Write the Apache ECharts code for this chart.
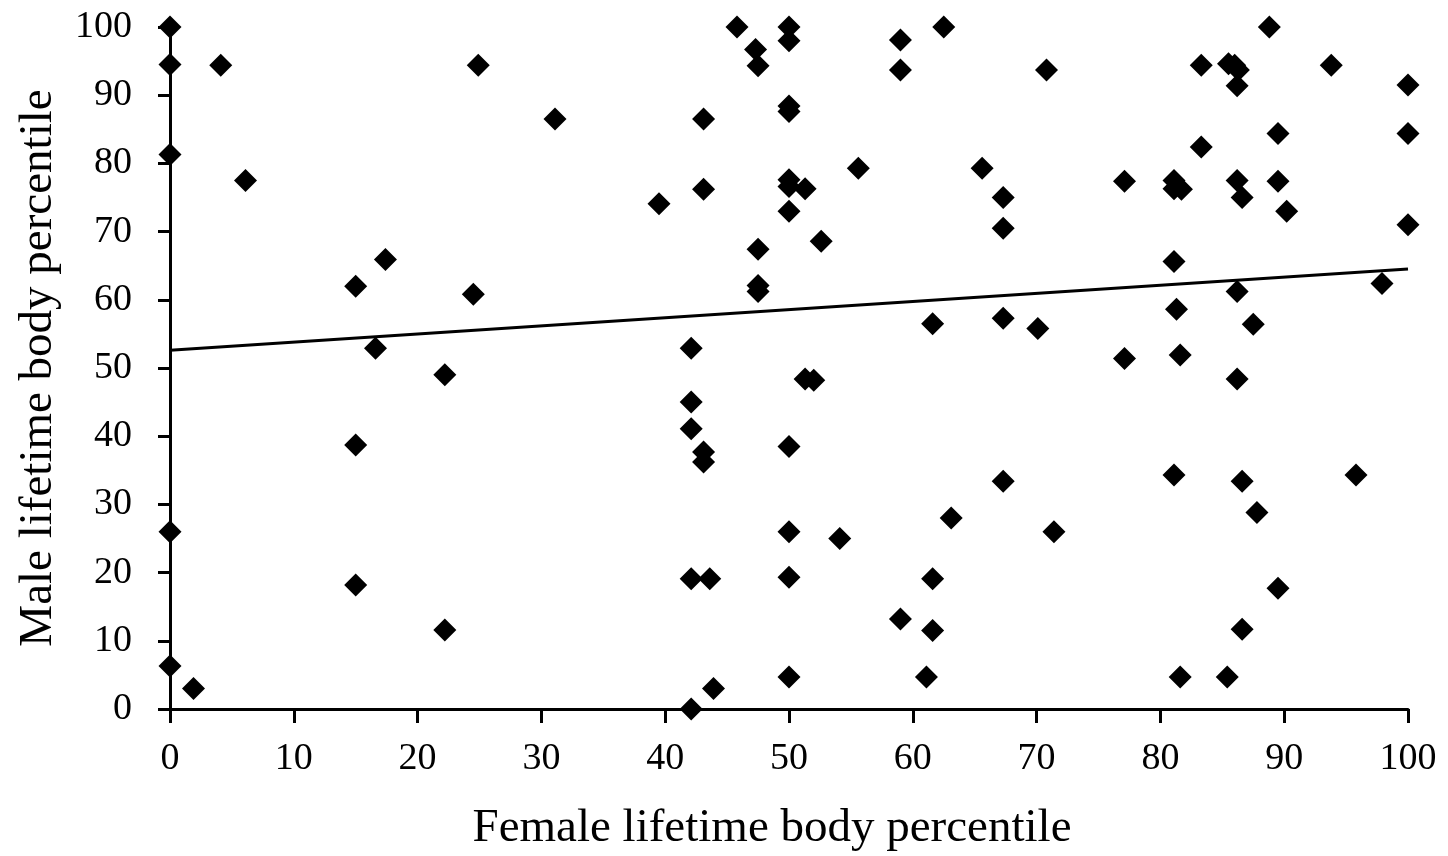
<!DOCTYPE html>
<html>
<head>
<meta charset="utf-8">
<script src="https://cdn.jsdelivr.net/npm/echarts@6/dist/echarts.min.js"></script>
<style>html,body{margin:0;padding:0;background:#fff}#c{width:1448px;height:856px}</style>
</head>
<body>
<div id="c"></div>
<script>
const femaleX = [
  0, 0, 0, 0, 0, 1.9,
  4.1, 6.1, 24.9, 31.1, 15.0, 17.4, 24.5, 16.6,
  22.2, 15.0, 15.0, 22.2,
  45.8, 50.0, 50.0, 47.3, 47.5, 59.0, 62.5, 59.0, 50.0, 50.0, 43.1,
  55.6, 65.6, 50.0, 50.0, 51.3, 50.0, 39.5, 43.1, 47.5, 52.6, 47.5, 47.5,
  61.6, 42.1, 67.3, 67.3, 67.3,
  88.8, 70.8, 83.3, 85.5, 86.0, 86.3, 86.2, 93.8, 100, 100, 89.5, 83.3,
  77.1, 81.1, 81.1, 81.7, 86.2, 89.5, 86.6, 90.2, 100, 81.1,
  70.1, 86.2, 81.3, 87.5, 97.9, 77.1, 81.6, 86.2,
  67.3, 81.1, 86.6, 95.8, 87.8, 71.4, 89.5, 86.6, 81.6, 85.4,
  51.3, 52.0, 42.1, 42.1, 43.1, 43.1, 50.0, 63.1, 50.0, 54.1,
  42.1, 43.6, 50.0, 61.6, 59.0, 61.6, 50.0, 61.1, 43.9, 42.1
];
const maleY = [
  100, 94.5, 81.3, 26.0, 6.3, 3.0,
  94.4, 77.5, 94.4, 86.5, 62.0, 65.9, 60.8, 52.9,
  49.0, 38.7, 18.2, 11.6,
  100, 100, 98.0, 96.7, 94.3, 98.1, 100, 93.7, 88.4, 87.6, 86.5,
  79.3, 79.3, 77.6, 76.6, 76.3, 73.0, 74.1, 76.2, 67.4, 68.6, 62.1, 61.2,
  56.5, 52.9, 75.0, 70.5, 57.3,
  100, 93.7, 94.4, 94.6, 94.4, 93.7, 91.4, 94.4, 91.5, 84.4, 84.4, 82.4,
  77.4, 77.5, 76.3, 76.2, 77.5, 77.4, 75.0, 73.0, 71.0, 65.6,
  55.8, 61.2, 58.6, 56.4, 62.4, 51.4, 51.9, 48.4,
  33.4, 34.3, 33.4, 34.3, 28.8, 26.0, 17.7, 11.7, 4.7, 4.7,
  48.4, 48.2, 45.0, 41.1, 37.7, 36.2, 38.5, 28.0, 26.0, 25.0,
  19.1, 19.1, 19.3, 19.1, 13.2, 11.5, 4.7, 4.7, 3.0, 0
];
const trendX = [0, 100];
const trendY = [52.6, 64.5];
const xTicks = [0, 10, 20, 30, 40, 50, 60, 70, 80, 90, 100];
const yTicks = [0, 10, 20, 30, 40, 50, 60, 70, 80, 90, 100];

const points = femaleX.map((x, i) => [x, maleY[i]]);
const trend = trendX.map((x, i) => [x, trendY[i]]);
const font = '"Liberation Serif", "Times New Roman", serif';

const chart = echarts.init(document.getElementById('c'), null, {renderer: 'canvas'});
chart.setOption({
  animation: false,
  backgroundColor: '#ffffff',
  grid: {left: 170, right: 40, top: 27, bottom: 147, containLabel: false, outerBoundsMode: 'none'},
  xAxis: {
    type: 'value', min: xTicks[0], max: xTicks[xTicks.length - 1], interval: 10,
    name: 'Female lifetime body percentile', nameLocation: 'middle', nameGap: 96,
    nameTextStyle: {fontFamily: font, fontSize: 47, color: '#000', padding: [0, 34, 0, 0]},
    axisLine: {show: true, lineStyle: {color: '#000', width: 3}},
    axisTick: {show: true, length: 14, lineStyle: {color: '#000', width: 3}},
    axisLabel: {fontFamily: font, fontSize: 38, color: '#000', margin: 31},
    splitLine: {show: false}
  },
  yAxis: {
    type: 'value', min: yTicks[0], max: yTicks[yTicks.length - 1], interval: 10,
    name: 'Male lifetime body percentile', nameLocation: 'middle', nameGap: 108,
    nameTextStyle: {fontFamily: font, fontSize: 47, color: '#000'},
    axisLine: {show: true, lineStyle: {color: '#000', width: 3}},
    axisTick: {show: true, length: 12, lineStyle: {color: '#000', width: 3}},
    axisLabel: {fontFamily: font, fontSize: 38, color: '#000', margin: 38},
    splitLine: {show: false}
  },
  series: [
    {
      type: 'scatter', data: points, symbol: 'diamond', symbolSize: [23, 23],
      itemStyle: {color: '#000', opacity: 1}, z: 3
    },
    {
      type: 'line', data: trend, symbol: 'none', showSymbol: false,
      lineStyle: {color: '#000', width: 3}, z: 4
    }
  ]
});
</script>
</body>
</html>
